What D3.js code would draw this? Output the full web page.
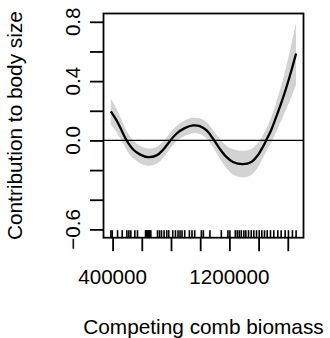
<!DOCTYPE html>
<html>
<head>
<meta charset="utf-8">
<script src="https://cdn.jsdelivr.net/npm/d3@7"></script>
<style>
  body { margin: 0; background: #fff; }
  svg { display: block; font-family: "Liberation Sans", Arial, Helvetica, sans-serif; }
</style>
</head>
<body>
<svg id="chart"></svg>
<script>
// smooth term
var biomass = [388000, 427000, 462000, 496000, 541000, 587000, 643000, 701000, 746000, 792000,
  837000, 894000, 951000, 997000, 1042000, 1087000, 1133000, 1179000, 1224000, 1292000,
  1350000, 1395000, 1429000, 1452000, 1486000, 1521000, 1566000, 1612000, 1657000];
var fit = [0.196, 0.135, 0.067, 0.0, -0.061, -0.094, -0.113, -0.101, -0.063, -0.005,
  0.045, 0.083, 0.101, 0.096, 0.069, 0.013, -0.055, -0.111, -0.145, -0.160,
  -0.145, -0.100, -0.044, 0.001, 0.069, 0.159, 0.283, 0.428, 0.586];
var halfWidth = [0.088, 0.078, 0.07, 0.064, 0.06, 0.058, 0.058, 0.057, 0.055, 0.053,
  0.052, 0.052, 0.052, 0.053, 0.055, 0.058, 0.065, 0.075, 0.085, 0.09,
  0.088, 0.082, 0.077, 0.077, 0.085, 0.1, 0.125, 0.165, 0.21];

// rug of observed biomass values
var rugValues = [388400, 397300, 434000, 465900, 497700, 511400, 525000, 552300, 570500,
  625500, 630000, 634600, 639000, 643700, 648000, 652800, 657000, 661900,
  707500, 721100, 734800, 752600, 771000, 784700, 812000, 830500, 848200, 861900,
  875500, 894000, 926000, 943900, 962400, 1008100, 1021800, 1066900, 1144800,
  1189900, 1203600, 1240500, 1254100, 1267800, 1281500, 1299200, 1312900, 1331300,
  1349800, 1367500, 1386000, 1404400, 1422200, 1440600, 1459000, 1481600, 1504100,
  1531500, 1554700, 1582000, 1604600, 1632000, 1657000];

var xTicks = [400000, 600000, 800000, 1000000, 1200000, 1400000, 1600000];
var xLabels = [400000, 1200000];
var yTicks = [-0.6, -0.4, -0.2, 0.0, 0.2, 0.4, 0.6, 0.8];
var yLabels = [-0.6, 0.0, 0.4, 0.8];
var yLimits = [-0.6, 0.8];

var margins = {top: 13.5, bottom: 100.3, left: 103.5, right: 26.5};
var W = 330, H = 338;
var width = W - margins.left - margins.right;
var height = H - margins.top - margins.bottom;

var svg0 = d3.select('#chart').attr('width', W).attr('height', H);
svg0.append('rect').attr('width', W).attr('height', H).style('fill', 'white');

var svg = svg0.append('g')
  .attr('transform', `translate(${margins.left}, ${margins.top})`);

// R style 4% padding around the data range
var xExt = d3.extent(rugValues);
var xPad = (xExt[1] - xExt[0]) * 0.04;
var yPad = (yLimits[1] - yLimits[0]) * 0.04;
var xScale = d3.scaleLinear().domain([xExt[0] - xPad, xExt[1] + xPad]).range([0, width]);
var yScale = d3.scaleLinear().domain([yLimits[0] - yPad, yLimits[1] + yPad]).range([height, 0]);

var rows = biomass.map((b, i) => ({x: b, y: fit[i], lo: fit[i] - halfWidth[i], hi: fit[i] + halfWidth[i]}));

// confidence band
svg.append('path')
  .datum(rows)
  .attr('d', d3.area()
    .x(d => xScale(d.x))
    .y0(d => yScale(d.lo))
    .y1(d => yScale(d.hi))
    .curve(d3.curveCatmullRom))
  .style('fill', '#d3d3d3')
  .style('stroke', 'none');

// zero line
svg.append('line')
  .attr('x1', 0).attr('x2', width)
  .attr('y1', yScale(0)).attr('y2', yScale(0))
  .style('stroke', 'black')
  .style('stroke-width', '1.3px');

// fitted smooth
svg.append('path')
  .datum(rows)
  .attr('d', d3.line()
    .x(d => xScale(d.x))
    .y(d => yScale(d.y))
    .curve(d3.curveCatmullRom))
  .style('fill', 'none')
  .style('stroke', 'black')
  .style('stroke-width', '2.3px');

// rug
svg.selectAll('line.rug')
  .data(rugValues)
  .enter()
  .append('line')
  .attr('class', 'rug')
  .attr('x1', d => xScale(d)).attr('x2', d => xScale(d))
  .attr('y1', height).attr('y2', height - 7.5)
  .style('stroke', 'black')
  .style('stroke-width', '1.6px');

// axes (ticks only, labels drawn below)
var yAxis = svg.append('g')
  .call(d3.axisLeft(yScale).tickValues(yTicks).tickSize(13.5).tickFormat(''));
var xAxis = svg.append('g')
  .attr('transform', `translate(0, ${height})`)
  .call(d3.axisBottom(xScale).tickValues(xTicks).tickSize(13.5).tickFormat(''));
[yAxis, xAxis].forEach(a => {
  a.select('.domain').remove();
  a.selectAll('line').style('stroke', 'black').style('stroke-width', '1.8px');
});

svg.selectAll('text.ylab')
  .data(yLabels)
  .enter()
  .append('text')
  .attr('class', 'ylab')
  .attr('transform', d => `translate(${80 - margins.left}, ${yScale(d)}) rotate(-90)`)
  .attr('text-anchor', 'middle')
  .style('font-size', '20.6px')
  .text(d => d.toFixed(1).replace('-', '\u2212'));

svg.selectAll('text.xlab')
  .data(xLabels)
  .enter()
  .append('text')
  .attr('class', 'xlab')
  .attr('x', d => xScale(d))
  .attr('y', 284 - margins.top)
  .attr('text-anchor', 'middle')
  .style('font-size', '20.6px')
  .text(d => d3.format('d')(d));

// box
svg.append('rect')
  .attr('width', width).attr('height', height)
  .style('fill', 'none')
  .style('stroke', 'black')
  .style('stroke-width', '1.8px');

// titles
svg.append('text')
  .attr('x', width / 2)
  .attr('y', 334 - margins.top)
  .attr('text-anchor', 'middle')
  .style('font-size', '20.8px')
  .text('Competing comb biomass');

svg.append('text')
  .attr('transform', `translate(${22 - margins.left}, ${height / 2}) rotate(-90)`)
  .attr('text-anchor', 'middle')
  .style('font-size', '20.8px')
  .text('Contribution to body size');
</script>
</body>
</html>
